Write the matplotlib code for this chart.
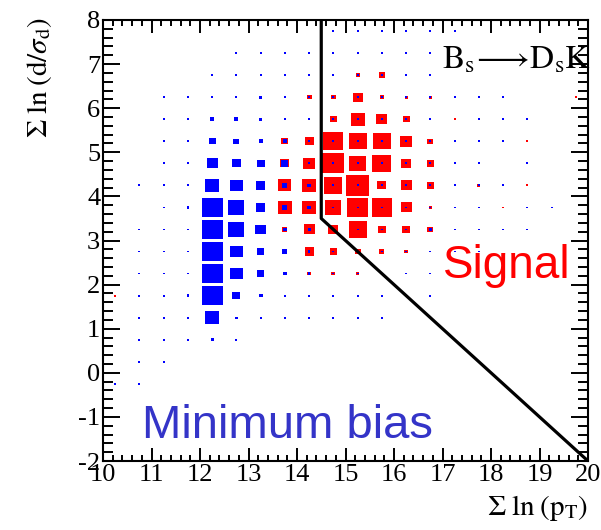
import matplotlib
matplotlib.use("Agg")
import matplotlib.pyplot as plt
from matplotlib.patches import Rectangle
import numpy as np

plt.rcParams['mathtext.fontset'] = 'stix'

# Bin grid
x_edges_lo, x_edges_hi, nx = 10.0, 20.0, 20
y_edges_lo, y_edges_hi, ny = -2.0, 8.0, 20
t = 2  # tiny content

# Box side (relative content, ~pixels) ; rows from top (y=7.75) to bottom (y=-1.75)
blue_rows = [
    [0,0,0,0,0,0,0,0,0,t,t,t,t,t,t,0,0,0,0,0],
    [0,0,0,0,0,t,t,t,t,t,t,t,t,t,0,0,0,0,0,0],
    [0,0,0,0,t,t,t,t,t,t,t,t,t,t,0,0,0,0,0,0],
    [0,0,t,t,t,2,3.5,2.5,2,t,t,t,t,t,t,t,t,0,0,0],
    [0,0,t,t,4,4,3.5,2.5,t,t,t,t,t,t,0,t,t,t,0,0],
    [0,0,t,t,7,6,4,4,t,t,t,t,t,t,t,t,t,0,0,0],
    [0,0,t,t,11,9,8,7,2.5,t,t,t,t,t,t,t,0,t,0,0],
    [0,t,t,t,14,12.5,9.5,5,4,t,t,t,t,t,t,t,t,0,0,0],
    [0,0,t,2.5,21,16,9.5,5,4,t,t,t,t,t,t,t,0,t,t,0],
    [0,t,t,t,21,16,10.5,4,3,t,t,t,t,2.5,t,t,t,t,0,0],
    [0,t,t,t,21,12.5,7.5,5,2.5,t,t,t,t,t,t,t,0,0,0,0],
    [0,t,t,t,21,12.5,7.5,4,2.5,t,t,0,t,t,0,0,0,0,0,0],
    [0,t,t,2.5,21,8,4,t,t,t,t,t,0,t,0,0,0,0,0,0],
    [0,t,t,t,14,2.5,t,t,t,t,t,t,0,0,0,0,0,0,0,0],
    [0,t,t,t,3,t,0,0,0,0,0,0,0,0,0,0,0,0,0,0],
    [0,t,t,0,0,0,0,0,0,0,0,0,0,0,0,0,0,0,0,0],
    [t,t,0,0,0,0,0,0,0,0,0,0,0,0,0,0,0,0,0,0],
    [0,0,0,0,0,0,0,0,0,0,0,0,0,0,0,0,0,0,0,0],
    [0,0,0,0,0,0,0,0,0,0,0,0,0,0,0,0,0,0,0,0],
    [0,0,0,0,0,0,0,0,0,0,0,0,0,0,0,0,0,0,0,0],
]

red_rows = [
    [0,0,0,0,0,0,0,0,0,0,0,0,0,0,0,0,0,0,0,0],
    [0,0,0,0,0,0,0,0,0,0,t,0,0,0,0,0,0,0,0,0],
    [0,0,0,0,0,0,t,0,0,0,4,6,t,0,0,0,0,0,0,0],
    [0,0,0,0,t,0,0,0,5,5,10,4,3,3,t,t,0,0,0,t],
    [0,0,0,0,0,0,0,0,0,7,14,11,7,0,t,0,t,0,0,0],
    [0,0,0,0,0,0,0,7,9,20,18,18,12,6,t,0,t,t,0,0],
    [0,0,0,0,0,0,0,9,12,22,17,19,10,7,t,0,0,0,0,0],
    [0,0,0,0,0,0,0,13,14,18,23,9,11,7,t,3,t,t,0,0],
    [0,0,0,0,0,0,0,14,14,16,21,20,11,3,t,0,t,0,t,0],
    [0,0,0,0,0,0,0,5,11,10,18,8,8,6,t,0,0,0,0,0],
    [0,0,0,0,0,0,0,0,9,7,6,5,4,0,0,0,0,0,0,0],
    [0,0,0,0,0,0,0,0,4,4,3,0,0,0,0,0,0,0,0,0],
    [t,0,0,0,0,0,0,0,t,0,0,0,0,0,0,0,0,0,0,0],
    [0,0,0,0,0,0,0,0,0,0,0,0,0,0,0,0,0,0,0,0],
    [0,0,0,0,0,0,0,0,0,0,0,0,0,0,0,0,0,0,0,0],
    [0,0,0,0,0,0,0,0,0,0,0,0,0,0,0,0,0,0,0,0],
    [0,0,0,0,0,0,0,0,0,0,0,0,0,0,0,0,0,0,0,0],
    [0,0,0,0,0,0,0,0,0,0,0,0,0,0,0,0,0,0,0,0],
    [0,0,0,0,0,0,0,0,0,0,0,0,0,0,0,0,0,0,0,0],
    [0,0,0,0,0,0,0,0,0,0,0,0,0,0,0,0,0,0,0,0],
]

# Selection cut line (x, y)
cut_x = [14.5, 14.5, 20.0]
cut_y = [8.0, 3.5, -2.0]

x_ticks = list(range(10, 21))
y_ticks = list(range(-2, 9))

fig = plt.figure(figsize=(6.01, 5.30), dpi=100)
ax = fig.add_axes([103/601, 1-461/530, (588-103)/601, (461-20)/530])
ax.set_xlim(x_edges_lo, x_edges_hi)
ax.set_ylim(y_edges_lo, y_edges_hi)

bw = (x_edges_hi - x_edges_lo) / nx
bh = (y_edges_hi - y_edges_lo) / ny
xc = x_edges_lo + bw * (np.arange(nx) + 0.5)
yc = y_edges_hi - bh * (np.arange(ny) + 0.5)
full = 24.25

def draw_boxes(rows, color, z):
    arr = np.array(rows, dtype=float)
    for r in range(ny):
        for c in range(nx):
            v = arr[r, c]
            if v <= 0:
                continue
            f = v / full
            w, h = f * bw, f * bh
            ax.add_patch(Rectangle((xc[c] - w/2, yc[r] - h/2), w, h,
                                   facecolor=color, edgecolor='none', zorder=z))

draw_boxes(red_rows, '#ff0000', 2)
draw_boxes(blue_rows, '#0000ff', 3)

ax.plot(cut_x, cut_y, color='black', lw=2.3, zorder=4, solid_capstyle='butt')

ax.set_xticks(x_ticks)
ax.set_yticks(y_ticks)
ax.set_xticks(np.arange(10, 20.01, 0.2), minor=True)
ax.set_yticks(np.arange(-2, 8.01, 0.2), minor=True)
ax.tick_params(axis='both', which='both', direction='in', top=True, right=True,
               width=1.4, color='black')
ax.tick_params(axis='x', which='major', length=9.5, pad=2)
ax.tick_params(axis='x', which='minor', length=4.5)
ax.tick_params(axis='y', which='major', length=12, pad=2)
ax.tick_params(axis='y', which='minor', length=7)
ax.set_xticklabels([str(v) for v in x_ticks], fontfamily='Liberation Serif', fontsize=19)
ax.set_yticklabels([str(v) for v in y_ticks], fontfamily='Liberation Serif', fontsize=19)
for s in ax.spines.values():
    s.set_linewidth(1.5)
    s.set_zorder(5)

ax.text(16.99, 6.91, r'$\mathrm{B_s\!\longrightarrow\! D_sK}$', fontsize=24,
        color='black', ha='left', va='baseline', zorder=6)
ax.text(17.0, 2.15, 'Signal', fontsize=33, family='Liberation Sans',
        color='#ff0000', ha='left', va='baseline', zorder=6)
ax.text(10.8, -1.48, 'Minimum bias', fontsize=34, family='Liberation Sans',
        color='#3434c8', ha='left', va='baseline', zorder=6)

fig.text(588/601, 1-515/530, r'$\Sigma\;\mathrm{ln}\;(\mathrm{p_T})$', fontsize=21,
         ha='right', va='baseline')
fig.text(40/601, 1-17/530, r'$\Sigma\;\mathrm{ln}\;(\mathrm{d}/\sigma_\mathrm{d})$', fontsize=21,
         ha='center', va='top', rotation=90)

fig.savefig('out.png', dpi=100)
